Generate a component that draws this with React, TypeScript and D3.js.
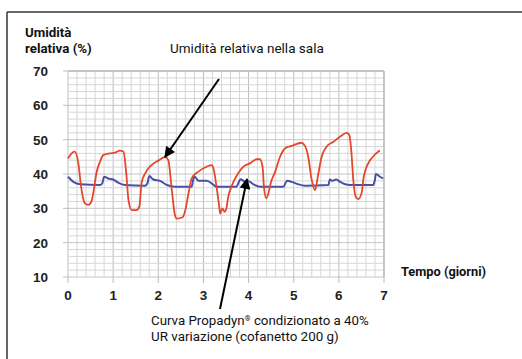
import React from "react";
import * as d3 from "d3";

const yTicks = [10, 20, 30, 40, 50, 60, 70];
const xTicks = [0, 1, 2, 3, 4, 5, 6, 7];

const redT = [0.0,0.08,0.15,0.23,0.29,0.37,0.45,0.52,0.56,0.63,0.71,0.78,0.93,1.04,1.15,1.23,1.29,1.34,1.41,1.52,1.58,1.63,1.71,1.85,2.0,2.15,2.22,2.3,2.37,2.41,2.54,2.59,2.67,2.74,2.89,3.07,3.18,3.23,3.29,3.35,3.37,3.42,3.47,3.51,3.55,3.62,3.77,3.88,4.03,4.18,4.25,4.31,4.34,4.39,4.44,4.49,4.59,4.7,4.81,4.96,5.17,5.25,5.32,5.4,5.47,5.54,5.62,5.73,5.88,6.03,6.17,6.23,6.28,6.32,6.38,6.43,6.51,6.54,6.65,6.76,6.87,6.91];
const redV = [44.5,46,46.5,43,36.3,31.5,31,32,34.4,40.3,43.6,45.5,46,46.2,46.8,46.5,40.3,32.4,29.5,29.5,30.5,37.4,40.2,42.6,43.9,44.9,44.1,35.3,28,27,27.4,29,34.4,38.7,40.7,42.1,42.6,41.2,36.3,30.5,28.5,30,29,30,33.4,36.3,40.2,42.1,43.1,44.3,44.3,42.1,36.3,32.9,34.4,37.3,40.7,45.1,47.5,48.2,49.1,48.2,45.1,38.2,35.3,39.7,45.1,48,49.4,50.9,52,51.4,46,38.2,33.2,32.7,34.8,38.2,43.1,45.1,46.5,46.8];

const blueT = [0.0,0.12,0.27,0.71,0.76,0.8,0.89,1.0,1.11,1.26,1.71,1.76,1.8,1.89,2.04,2.19,2.37,2.74,2.77,2.81,2.89,3.07,3.18,3.29,3.73,3.78,3.82,3.92,4.0,4.11,4.25,4.77,4.85,4.96,5.1,5.25,5.77,5.8,5.86,5.94,6.03,6.14,6.25,6.76,6.8,6.82,6.91,6.98];
const blueV = [39.2,37.7,37,36.8,37.3,39.2,38.7,38.4,37.5,36.8,36.6,37.3,39.4,38.4,38,36.8,36.3,36.3,38.2,39.2,38,38,37.3,36.3,36.3,37.5,38.5,37.8,37.9,37,36.3,36.3,38,37.7,37,36.6,36.8,38.4,38,38.4,37.7,37,36.8,36.8,38.4,40,39.2,38.7];

const W = 522, H = 359;
const x = d3.scaleLinear().domain([0, 7]).range([68, 384]);
const y = d3.scaleLinear().domain([10, 70]).range([277, 71]);

const line = d3.line<[number, number]>().x(d => x(d[0])).y(d => y(d[1])).curve(d3.curveMonotoneX);

export default function App() {
  const red = redT.map((t, i) => [t, redV[i]] as [number, number]);
  const blue = blueT.map((t, i) => [t, blueV[i]] as [number, number]);
  const minorX = d3.range(0, 7.001, 0.2);
  const minorY = d3.range(10, 70.001, 2);
  const lbl = "'Roboto', 'DejaVu Sans', sans-serif";
  const tickFont = "'Liberation Sans', Arial, sans-serif";
  return (
    <svg width={W} height={H} style={{ position: "absolute", left: 0, top: 0, background: "#fff" }}>
      <defs>
        <marker id="ah" viewBox="0 0 10 10" refX="9" refY="5" markerWidth="6.5" markerHeight="5.5" orient="auto-start-reverse" markerUnits="strokeWidth">
          <path d="M0,0 L10,5 L0,10 z" fill="#000" />
        </marker>
      </defs>
      <line x1={7} y1={12} x2={W} y2={12} stroke="#333" strokeWidth={1.5} />
      <line x1={7} y1={12} x2={7} y2={H} stroke="#333" strokeWidth={1.5} />
      {minorX.map((t, i) => (
        <line key={"mx" + i} x1={x(t)} x2={x(t)} y1={y(70)} y2={y(10)} stroke={i % 5 === 0 ? "#bdbdbd" : "#d6d6d6"} strokeWidth={1} />
      ))}
      {minorY.map((v, i) => (
        <line key={"my" + i} x1={x(0)} x2={x(7)} y1={y(v)} y2={y(v)} stroke={i % 5 === 0 ? "#c4c4c4" : "#d6d6d6"} strokeWidth={1} />
      ))}
      {yTicks.map(v => (
        <line key={"yt" + v} x1={x(0) - 5} x2={x(0)} y1={y(v)} y2={y(v)} stroke="#bdbdbd" />
      ))}
      {xTicks.map(t => (
        <line key={"xt" + t} x1={x(t)} x2={x(t)} y1={y(10)} y2={y(10) + 6} stroke="#bdbdbd" />
      ))}
      <line x1={x(0)} x2={x(7)} y1={y(70)} y2={y(70)} stroke="#bcbcbc" strokeWidth={1.5} />
      <line x1={x(7)} x2={x(7)} y1={y(70)} y2={y(10)} stroke="#bcbcbc" strokeWidth={1.5} />
      <path d={line(blue) || ""} fill="none" stroke="#4a4fa6" strokeWidth={2} />
      <path d={line(red) || ""} fill="none" stroke="#e4462c" strokeWidth={1.8} />
      {yTicks.map(v => (
        <text key={"yl" + v} x={48} y={y(v)} dy="0.36em" textAnchor="end" fontFamily={tickFont} fontWeight="bold" fontSize={13.5} fill="#222">{v}</text>
      ))}
      {xTicks.map(t => (
        <text key={"xl" + t} x={x(t)} y={300} textAnchor="middle" fontFamily={tickFont} fontWeight="bold" fontSize={13.5} fill="#222">{t}</text>
      ))}
      <text x={25} y={37} fontFamily={lbl} fontWeight="bold" fontSize={13.3} fill="#111">Umidità</text>
      <text x={25} y={53} fontFamily={lbl} fontWeight="bold" fontSize={13.3} fill="#111">relativa (%)</text>
      <text x={170} y={53} fontFamily={lbl} fontSize={13.5} fill="#111">Umidità relativa nella sala</text>
      <text x={401} y={276} fontFamily={lbl} fontWeight="bold" fontSize={12.8} fill="#111">Tempo (giorni)</text>
      <text x={151} y={325} fontFamily={lbl} fontSize={13.3} fill="#111">Curva Propadyn<tspan fontSize={7.5} dy={-4.5}>®</tspan><tspan dy={4.5}> condizionato a 40%</tspan></text>
      <text x={151} y={341} fontFamily={lbl} fontSize={13.4} fill="#111">UR variazione (cofanetto 200 g)</text>
      <line x1={219} y1={79} x2={165} y2={157} stroke="#000" strokeWidth={2} markerEnd="url(#ah)" />
      <line x1={220} y1={309} x2={247} y2={179} stroke="#000" strokeWidth={2} markerEnd="url(#ah)" />
    </svg>
  );
}
